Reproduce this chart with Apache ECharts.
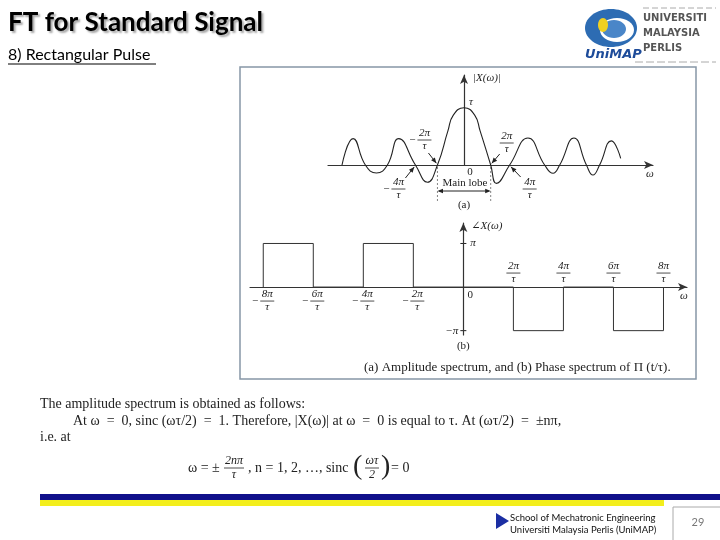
<!DOCTYPE html>
<html>
<head>
<meta charset="utf-8">
<script src="https://cdn.jsdelivr.net/npm/echarts@6/dist/echarts.min.js"></script>
<style>
html, body { margin: 0; padding: 0; background: #fff; }
#main { width: 720px; height: 540px; }
</style>
</head>
<body>
<div id="main"></div>
<script>
// panel (a) |X(w)|: w in units of pi/tau, value in units of tau
var ampOmega = [-9.14, -8.31, -7.39, -6.56, -5.74, -4.89, -3.64, -2.74, -1.99, -1.2, -0.8, 0, 0.8, 1.2, 2.0, 2.43, 3.42, 4.79, 6.04, 6.67, 7.17, 8.24, 9.17, 9.66, 10.16, 11.04, 11.74];
var ampValue = [0, 0.46, 0, -0.14, 0, 0.46, 0, -0.30, 0, 0.6, 0.87, 1, 0.87, 0.6, 0, -0.32, 0, 0.47, 0, -0.145, 0, 0.47, 0, -0.175, 0, 0.42, 0.117];
// zero crossings that carry an arrow + label in (a)
var ampMarks = [-1.99, 2.0, -3.64, 3.42];
var ampMarkLabels = ['2π', '2π', '4π', '4π'];

// panel (b) phase: w in units of pi/tau, value in units of pi
var phaseOmega = [-8, -8, -6, -6, -4, -4, -2, -2, 2, 2, 4, 4, 6, 6, 8, 8];
var phaseValue = [0, 1, 1, 0, 0, 1, 1, 0, 0, -1, -1, 0, 0, -1, -1, 0];
var phaseTicks = [-8, -6, -4, -2, 2, 4, 6, 8];
var phaseTickLabels = ['8π', '6π', '4π', '2π', '2π', '4π', '6π', '8π'];

var SERIF = '"Liberation Serif", "DejaVu Serif", serif';
var INK = '#222';

function pairs(xs, ys) {
	var out = [];
	for (var i = 0; i < xs.length; i++) out.push([xs[i], ys[i]]);
	return out;
}

function txt(x, y, s, font, align, valign, fill, extra) {
	var style = {
		text: s, font: font, fill: fill || INK,
		align: align || 'left', textAlign: align || 'left',
		verticalAlign: valign || 'middle', textVerticalAlign: valign || 'middle'
	};
	if (extra) for (var k in extra) style[k] = extra[k];
	return { type: 'text', x: x, y: y, silent: true, style: style };
}

function seg(x1, y1, x2, y2, color, w, dash) {
	return {
		type: 'line', silent: true,
		shape: { x1: x1, y1: y1, x2: x2, y2: y2 },
		style: { stroke: color || INK, lineWidth: w || 1, lineDash: dash || null }
	};
}

function head(x1, y1, x2, y2, size) {
	var a = Math.atan2(y2 - y1, x2 - x1), s = size || 6;
	return {
		type: 'polygon', silent: true,
		shape: { points: [[x2, y2],
			[x2 - s * Math.cos(a - 0.4), y2 - s * Math.sin(a - 0.4)],
			[x2 - s * Math.cos(a + 0.4), y2 - s * Math.sin(a + 0.4)]] },
		style: { fill: INK }
	};
}

function arrow(els, x1, y1, x2, y2) {
	els.push(seg(x1, y1, x2, y2, INK, 1));
	els.push(head(x1, y1, x2, y2, 6));
}

function frac(els, cx, cy, num, den, neg, size) {
	var f = 'italic ' + (size || 11) + 'px ' + SERIF;
	var w = Math.max(num.length, den.length) * 6 + 2;
	els.push(txt(cx, cy - 1, num, f, 'center', 'bottom'));
	els.push(seg(cx - w / 2, cy, cx + w / 2, cy, INK, 0.8));
	els.push(txt(cx, cy + 1, den, f, 'center', 'top'));
	if (neg) els.push(txt(cx - w / 2 - 2, cy, '−', (size || 11) + 'px ' + SERIF, 'right', 'middle'));
}

var chart = echarts.init(document.getElementById('main'));

var axisLineStyle = { color: '#333', width: 1.2 };

var option = {
	backgroundColor: '#fff',
	animation: false,
	grid: [
		{ left: 328, top: 75, width: 325, height: 90 },
		{ left: 250, top: 223, width: 437, height: 112 }
	],
	xAxis: [
		{
			type: 'value', gridIndex: 0, min: -10.19, max: 14.16,
			axisLine: { onZero: true, symbol: ['none', 'arrow'], symbolSize: [6, 9], lineStyle: axisLineStyle },
			axisTick: { show: false }, axisLabel: { show: false }, splitLine: { show: false }
		},
		{
			type: 'value', gridIndex: 1, min: -8.53, max: 8.94,
			axisLine: { onZero: true, symbol: ['none', 'arrow'], symbolSize: [6, 9], lineStyle: axisLineStyle },
			axisTick: { show: false }, axisLabel: { show: false }, splitLine: { show: false }
		}
	],
	yAxis: [
		{
			type: 'value', gridIndex: 0, min: 0, max: 1.57,
			axisLine: { show: true, onZero: true, symbol: ['none', 'arrow'], symbolSize: [6, 9], lineStyle: axisLineStyle },
			axisTick: { show: false }, axisLabel: { show: false }, splitLine: { show: false }
		},
		{
			type: 'value', gridIndex: 1, min: -1.1, max: 1.47,
			axisLine: { show: true, onZero: true, symbol: ['none', 'arrow'], symbolSize: [6, 9], lineStyle: axisLineStyle },
			axisTick: { show: false }, axisLabel: { show: false }, splitLine: { show: false }
		}
	],
	series: [
		{
			name: 'amplitude', type: 'line', xAxisIndex: 0, yAxisIndex: 0,
			data: pairs(ampOmega, ampValue),
			smooth: 0.5, showSymbol: false, clip: false,
			lineStyle: { color: '#222', width: 1.1 }
		},
		{
			name: 'phase', type: 'line', xAxisIndex: 1, yAxisIndex: 1,
			data: pairs(phaseOmega, phaseValue),
			showSymbol: false, clip: false,
			lineStyle: { color: '#333', width: 1 }
		}
	]
};
chart.setOption(option);

function P(g, x, y) {
	return chart.convertToPixel({ gridIndex: g }, [x, y]);
}

var els = [];

// slide header
els.push(txt(8, 23, 'FT for Standard Signal', 'bold 26px Lato', 'left', 'middle', '#000',
	{ textShadowColor: 'rgba(0,0,0,0.35)', textShadowBlur: 2, textShadowOffsetX: 2, textShadowOffsetY: 2 }));
els.push(txt(8, 55, '8) Rectangular Pulse', '16px Lato', 'left', 'middle', '#000'));
els.push(seg(8, 64, 156, 64, '#000', 1));

// logo (rough)
els.push({ type: 'ellipse', silent: true, shape: { cx: 611, cy: 28, rx: 26, ry: 19 }, style: { fill: '#2d6cb3' } });
els.push({ type: 'ellipse', silent: true, shape: { cx: 617, cy: 30, rx: 17, ry: 12 }, style: { fill: '#ffffff' } });
els.push({ type: 'ellipse', silent: true, shape: { cx: 614, cy: 29, rx: 12, ry: 9 }, style: { fill: '#4a86c8' } });
els.push({ type: 'ellipse', silent: true, shape: { cx: 603, cy: 25, rx: 5, ry: 7 }, style: { fill: '#f0d020' } });
els.push(txt(585, 55, 'UniMAP', 'bold italic 13px "DejaVu Sans"', 'left', 'middle', '#1e4c9a'));
els.push(txt(643, 18, 'UNIVERSITI', 'bold 10px "DejaVu Sans"', 'left', 'middle', '#555'));
els.push(txt(643, 33, 'MALAYSIA', 'bold 10px "DejaVu Sans"', 'left', 'middle', '#555'));
els.push(txt(643, 48, 'PERLIS', 'bold 10px "DejaVu Sans"', 'left', 'middle', '#555'));
els.push(seg(643, 8, 716, 8, '#aaa', 1, [6, 3]));
els.push(seg(635, 62, 716, 62, '#aaa', 1, [8, 3]));

// figure frame
els.push({ type: 'rect', silent: true, shape: { x: 240, y: 67, width: 456, height: 312 },
	style: { fill: 'none', stroke: '#8797a6', lineWidth: 1.5 } });

// ---- panel (a) labels
var o0 = P(0, 0, 0);
els.push(txt(o0[0] + 9, 78, '|X(ω)|', 'italic 11px ' + SERIF, 'left', 'middle'));
els.push(txt(o0[0] + 5, P(0, 0, 1)[1] - 6, 'τ', 'italic 11px ' + SERIF, 'left', 'middle'));
els.push(txt(o0[0] + 6, o0[1] + 7, '0', '11px ' + SERIF, 'center', 'middle'));
els.push(txt(P(0, 14.16, 0)[0] - 3, o0[1] + 9, 'ω', 'italic 11px ' + SERIF, 'center', 'middle'));

var offs = [
	{ lab: [-13, -25], a: [-9, -12] },
	{ lab: [16, -22], a: [9, -11] },
	{ lab: [-17, 24], a: [-10, 13] },
	{ lab: [20, 24], a: [11, 12] }
];
for (var i = 0; i < ampMarks.length; i++) {
	var t = P(0, ampMarks[i], 0), f = offs[i];
	frac(els, t[0] + f.lab[0], t[1] + f.lab[1], ampMarkLabels[i], 'τ', ampMarks[i] < 0);
	arrow(els, t[0] + f.a[0], t[1] + f.a[1], t[0] + f.a[0] * 0.12, t[1] + f.a[1] * 0.15);
}

// main lobe
var lobeL = P(0, ampMarks[0], 0), lobeR = P(0, ampMarks[1], 0);
els.push(seg(lobeL[0], lobeL[1] + 2, lobeL[0], lobeL[1] + 36, '#666', 0.8, [2, 2]));
els.push(seg(lobeR[0], lobeR[1] + 2, lobeR[0], lobeR[1] + 36, '#666', 0.8, [2, 2]));
els.push(seg(lobeL[0] + 2, o0[1] + 26, lobeR[0] - 2, o0[1] + 26, INK, 1));
els.push(head(lobeR[0], o0[1] + 26, lobeL[0], o0[1] + 26, 6));
els.push(head(lobeL[0], o0[1] + 26, lobeR[0], o0[1] + 26, 6));
els.push(txt(o0[0] + 1, o0[1] + 18, 'Main lobe', '11px ' + SERIF, 'center', 'middle'));
els.push(txt(o0[0], o0[1] + 40, '(a)', '11px ' + SERIF, 'center', 'middle'));

// ---- panel (b) labels
var o1 = P(1, 0, 0);
var yPi = P(1, 0, 1)[1], yMinusPi = P(1, 0, -1)[1];
els.push(txt(o1[0] + 8, 226, '∠X(ω)', 'italic 11px ' + SERIF, 'left', 'middle'));
els.push(seg(o1[0] - 3, yPi, o1[0] + 3, yPi, INK, 1));
els.push(seg(o1[0] - 3, yMinusPi, o1[0] + 3, yMinusPi, INK, 1));
els.push(txt(o1[0] + 7, yPi, 'π', 'italic 11px ' + SERIF, 'left', 'middle'));
els.push(txt(o1[0] - 5, yMinusPi, '−π', 'italic 11px ' + SERIF, 'right', 'middle'));
els.push(txt(o1[0] + 7, o1[1] + 8, '0', '11px ' + SERIF, 'center', 'middle'));
els.push(txt(P(1, 8.94, 0)[0] - 3, o1[1] + 9, 'ω', 'italic 11px ' + SERIF, 'center', 'middle'));
for (var j = 0; j < phaseTicks.length; j++) {
	var p = P(1, phaseTicks[j], 0);
	if (phaseTicks[j] < 0) frac(els, p[0] + 4, p[1] + 14, phaseTickLabels[j], 'τ', true);
	else frac(els, p[0], p[1] - 14, phaseTickLabels[j], 'τ', false);
}
els.push(txt(o1[0], 346, '(b)', '11px ' + SERIF, 'center', 'middle'));
els.push(txt(364, 368, '(a) Amplitude spectrum, and (b) Phase spectrum of Π (t/τ).', '13px ' + SERIF, 'left', 'middle'));

// ---- text under the figure
var BODY = '14px ' + SERIF;
els.push(txt(40, 404, 'The amplitude spectrum is obtained as follows:', BODY));
els.push(txt(73, 421, 'At ω  =  0, sinc (ωτ/2)  =  1. Therefore, |X(ω)| at ω  =  0 is equal to τ. At (ωτ/2)  =  ±nπ,', BODY));
els.push(txt(40, 437, 'i.e. at', BODY));
els.push(txt(188, 468, 'ω = ±', BODY));
frac(els, 234, 468, '2nπ', 'τ', false, 12);
els.push(txt(248, 468, ', n = 1, 2, …, sinc', BODY));
els.push(txt(353, 467, '(', '28px ' + SERIF));
frac(els, 372, 468, 'ωτ', '2', false, 12);
els.push(txt(381, 467, ')', '28px ' + SERIF));
els.push(txt(391, 468, '= 0', BODY));

// ---- footer
els.push({ type: 'rect', silent: true, shape: { x: 40, y: 494, width: 680, height: 6 }, style: { fill: '#10108a' } });
els.push({ type: 'rect', silent: true, shape: { x: 40, y: 500, width: 624, height: 6 }, style: { fill: '#f3ee1c' } });
els.push({ type: 'polygon', silent: true, shape: { points: [[496, 513], [509, 521], [496, 529]] }, style: { fill: '#1b2ea3' } });
els.push(txt(510, 518, 'School of Mechatronic Engineering', '9.5px Lato', 'left', 'middle', '#111'));
els.push(txt(510, 530, 'Universiti Malaysia Perlis (UniMAP)', '9.5px Lato', 'left', 'middle', '#111'));
els.push({ type: 'rect', silent: true, shape: { x: 673, y: 507, width: 48, height: 36 }, style: { fill: 'none', stroke: '#aaa', lineWidth: 1 } });
els.push(txt(698, 522, '29', '11px Lato', 'center', 'middle', '#777'));

chart.setOption({ graphic: { elements: els } });
</script>
</body>
</html>
